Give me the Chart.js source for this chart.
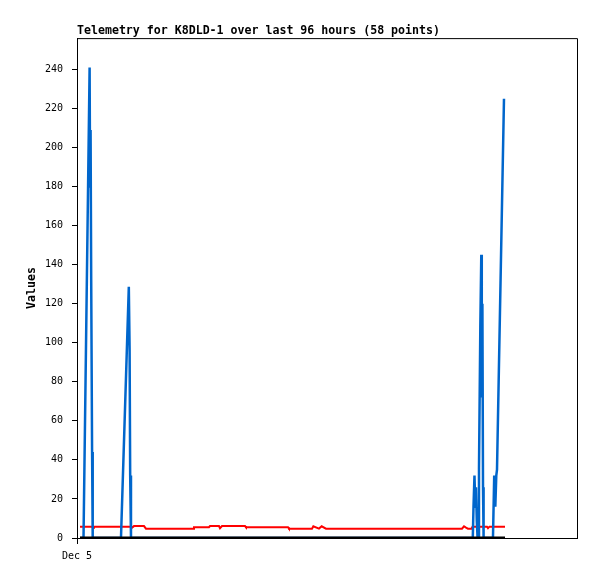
<!DOCTYPE html>
<html><head><meta charset="utf-8">
<script src="https://cdn.jsdelivr.net/npm/chart.js@4"></script>
<style>html,body{margin:0;padding:0;background:#fff}canvas{display:block}</style>
</head><body>
<canvas id="c" width="597" height="579"></canvas>
<script>
const chartTitle = 'Telemetry for K8DLD-1 over last 96 hours (58 points)';
const yAxisTitle = 'Values';
const xTickLabel = 'Dec 5';
const yTickValues = [0, 20, 40, 60, 80, 100, 120, 140, 160, 180, 200, 220, 240];

// time in hours from the start of the axis (Dec 5)
const blueHours = [0.68, 1.47, 2.85, 2.96, 3.07, 3.21, 3.41, 3.55, 9.94, 11.71, 11.89, 12.02, 12.20,
  89.45, 89.61, 89.83, 90.01, 90.17, 90.35, 90.53, 90.72, 90.85, 91.15, 91.37, 91.48, 91.62, 91.76, 91.89,
  94.01, 94.29, 94.54, 94.76, 94.92, 96.50];
const blueValues = [0, 0, 241, 180, 209, 132, 44, 0, 0, 128.6, 96, 32, 0,
  0, 16, 32, 16, 26, 9, 0, 0, 36, 108, 145, 72, 120, 26, 0,
  0, 32, 16, 32, 35, 225];

const redHours = [0.68, 3.39, 3.62, 3.84, 12.20, 12.43, 12.88, 15.14, 15.59, 26.22, 26.44, 29.83, 30.06,
  32.09, 32.32, 32.77, 37.97, 38.19, 47.69, 47.91, 53.11, 53.41, 54.69, 55.30, 56.27, 87.01, 87.46, 87.91,
  88.36, 89.16, 89.39, 90.51, 90.74, 91.08, 92.66, 92.89, 93.22, 96.73];
const redValues = [5.8, 5.8, 5.3, 5.8, 5.8, 5.3, 6.1, 6.1, 4.8, 4.8, 5.5, 5.5, 6.1,
  6.1, 5.0, 6.1, 6.1, 5.5, 5.5, 4.8, 4.8, 6.0, 4.8, 6.0, 4.8, 4.8, 6.0, 5.3,
  4.8, 4.8, 5.8, 5.8, 5.0, 5.8, 5.8, 5.0, 5.8, 5.8];

const blackHours = [0.68, 96.73];
const blackValues = [0, 0];

const toPoints = (xs, ys) => xs.map((x, i) => ({x: x, y: ys[i]}));

const frame = {
  id: 'frame',
  beforeDatasetsDraw(chart) {
    const {ctx, chartArea: {left, top, right, bottom}} = chart;
    ctx.save();
    ctx.strokeStyle = '#000';
    ctx.lineWidth = 1;
    ctx.beginPath();
    ctx.moveTo(left, top + 0.5);
    ctx.lineTo(right + 0.5, top + 0.5);
    ctx.lineTo(right + 0.5, bottom);
    ctx.stroke();
    ctx.restore();
  }
};

const mono = "'DejaVu Sans Mono', 'Liberation Mono', monospace";

new Chart(document.getElementById('c'), {
  type: 'line',
  data: {
    datasets: [
      {data: toPoints(blackHours, blackValues), borderColor: '#000', borderWidth: 3, pointRadius: 0, tension: 0},
      {data: toPoints(blueHours, blueValues), borderColor: 'rgb(0,102,204)', borderWidth: 2.5, pointRadius: 0, tension: 0},
      {data: toPoints(redHours, redValues), borderColor: 'rgb(255,0,0)', borderWidth: 2, pointRadius: 0, tension: 0}
    ]
  },
  options: {
    responsive: false,
    animation: false,
    devicePixelRatio: 1,
    layout: {padding: {top: 24, right: 20, bottom: 0, left: 0}},
    plugins: {
      legend: {display: false},
      tooltip: {enabled: false},
      title: {
        display: true, text: chartTitle, align: 'start', fullSize: false,
        color: '#000', font: {family: mono, size: 11.6, weight: 'bold', lineHeight: 1.2},
        padding: {top: 0, bottom: 0.2}
      }
    },
    scales: {
      x: {
        type: 'linear', min: 0, max: 113,
        afterFit(s) { s.height = 41; },
        afterBuildTicks(s) { s.ticks = [{value: 0}]; },
        grid: {display: true, drawOnChartArea: false, drawTicks: true, tickLength: 6, color: '#000'},
        border: {display: true, color: '#000', width: 1},
        ticks: {autoSkip: false, maxRotation: 0, padding: 6, color: '#000',
          font: {family: mono, size: 10},
          callback: v => v === 0 ? xTickLabel : ''}
      },
      y: {
        min: 0, max: 256,
        afterFit(s) { s.width = 77; },
        afterBuildTicks(s) { s.ticks = yTickValues.map(v => ({value: v})); },
        grid: {display: true, drawOnChartArea: false, drawTicks: true, tickLength: 5, color: '#000'},
        border: {display: true, color: '#000', width: 1},
        ticks: {padding: 9, color: '#000', font: {family: mono, size: 10}},
        title: {display: true, text: yAxisTitle, color: '#000',
          font: {family: mono, size: 11.6, weight: 'bold', lineHeight: 1.2},
          padding: {top: 24.6, bottom: 0}}
      }
    }
  },
  plugins: [frame]
});
</script>
</body></html>
